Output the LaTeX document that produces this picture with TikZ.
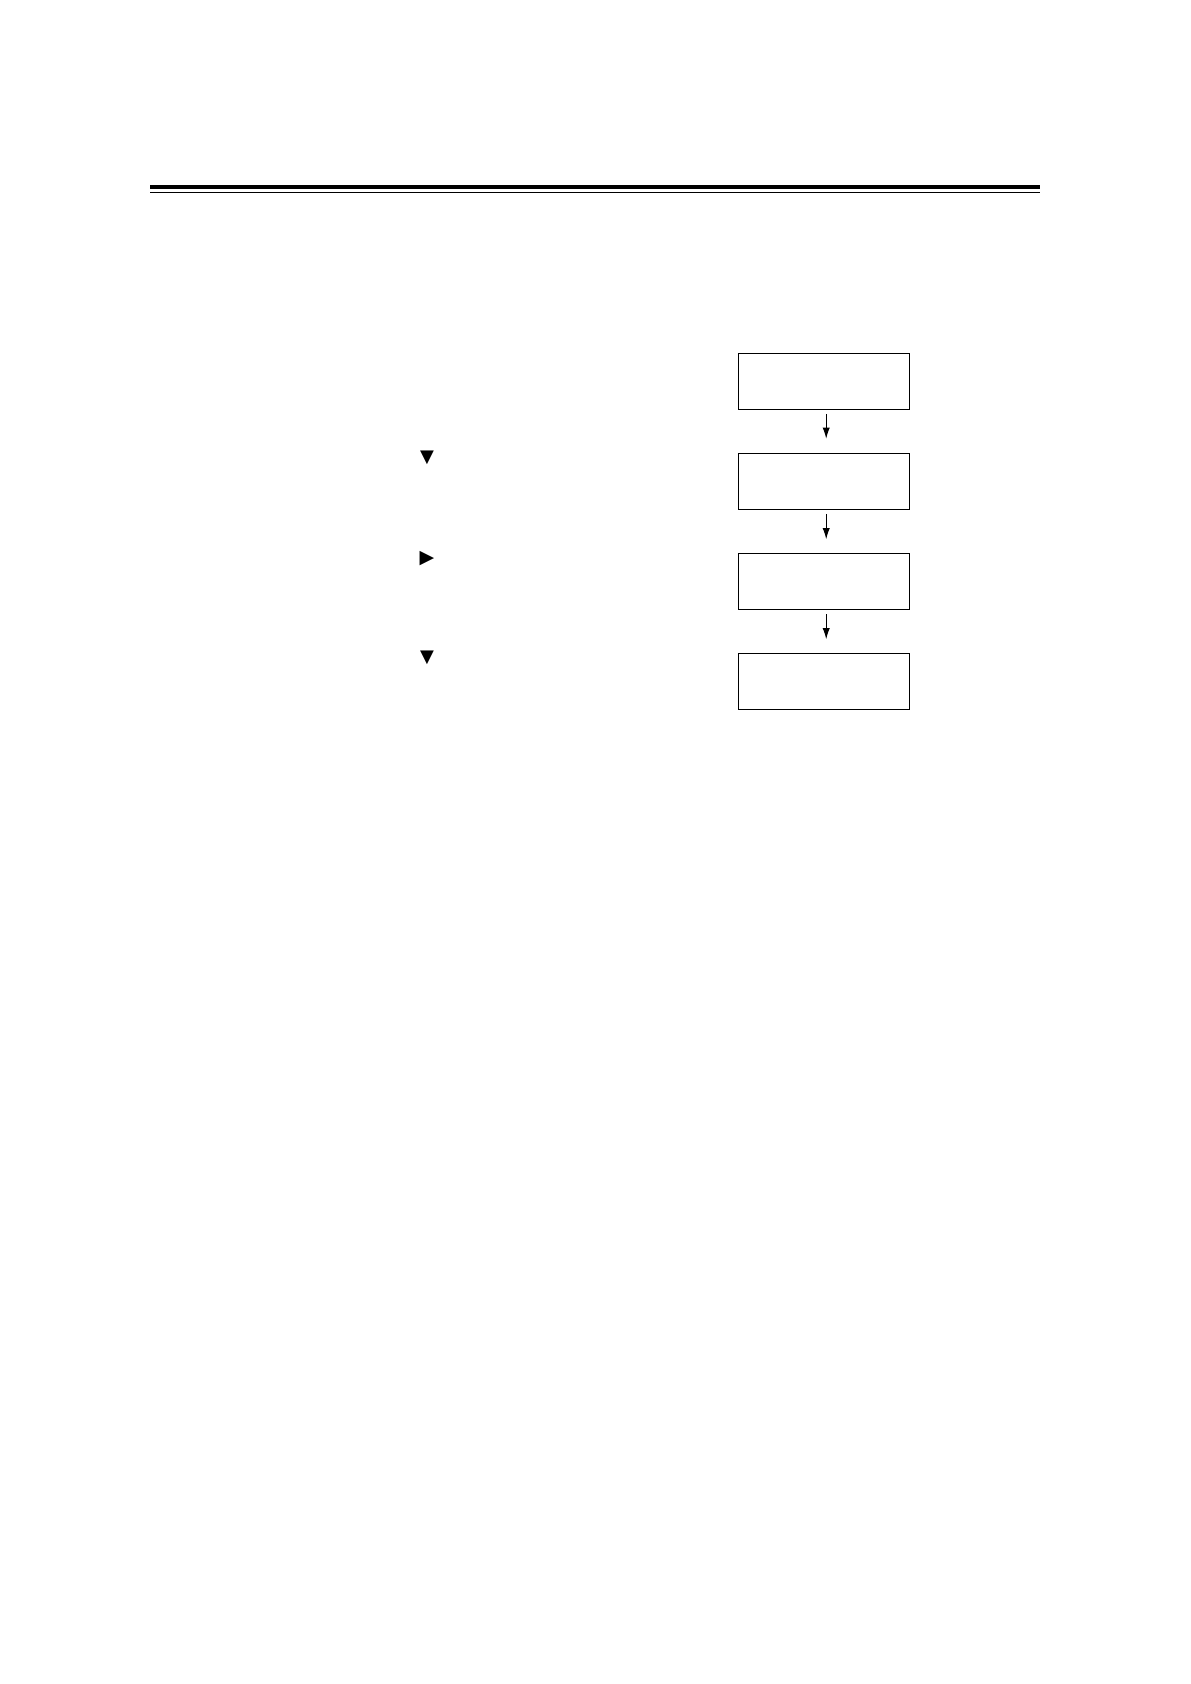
\documentclass[tikz,border=0pt]{standalone}
\usepackage{fontspec}
\newfontfamily\symfont{DejaVu Sans}
\usetikzlibrary{arrows.meta}
\begin{document}
\begin{tikzpicture}[x=0.5pt,y=-0.5pt,
  screenbox/.style={draw,line width=0.6pt,minimum width=85.7pt,minimum height=28pt,inner sep=0pt},
  flowarrow/.style={line width=0.5pt,-{Latex[length=5.5pt,width=3.6pt]}},
  keymark/.style={inner sep=0pt,font=\symfont\fontsize{9pt}{10pt}\selectfont}]
\useasboundingbox (0,0) rectangle (1190,1684);
\draw[line width=2pt] (150,187) -- (1040,187);
\draw[line width=0.6pt] (150,192.5) -- (1040,192.5);
\node[screenbox] (b1) at (824,381.3) {};
\node[screenbox] (b2) at (824,481.3) {};
\node[screenbox] (b3) at (824,581.8) {};
\node[screenbox] (b4) at (824,681.8) {};
\draw[flowarrow] ([xshift=1.1pt,yshift=-2pt]b1.south) -- ([xshift=1.1pt,yshift=7pt]b2.north);
\draw[flowarrow] ([xshift=1.1pt,yshift=-2pt]b2.south) -- ([xshift=1.1pt,yshift=7pt]b3.north);
\draw[flowarrow] ([xshift=1.1pt,yshift=-2pt]b3.south) -- ([xshift=1.1pt,yshift=7pt]b4.north);
\node[keymark] (k1) at (427,457.5) {▼};
\node[keymark,font=\symfont\fontsize{9.5pt}{10pt}\selectfont] (k2) at (427,558.5) {▶};
\node[keymark] (k3) at (427,657.5) {▼};
\end{tikzpicture}
\end{document}
